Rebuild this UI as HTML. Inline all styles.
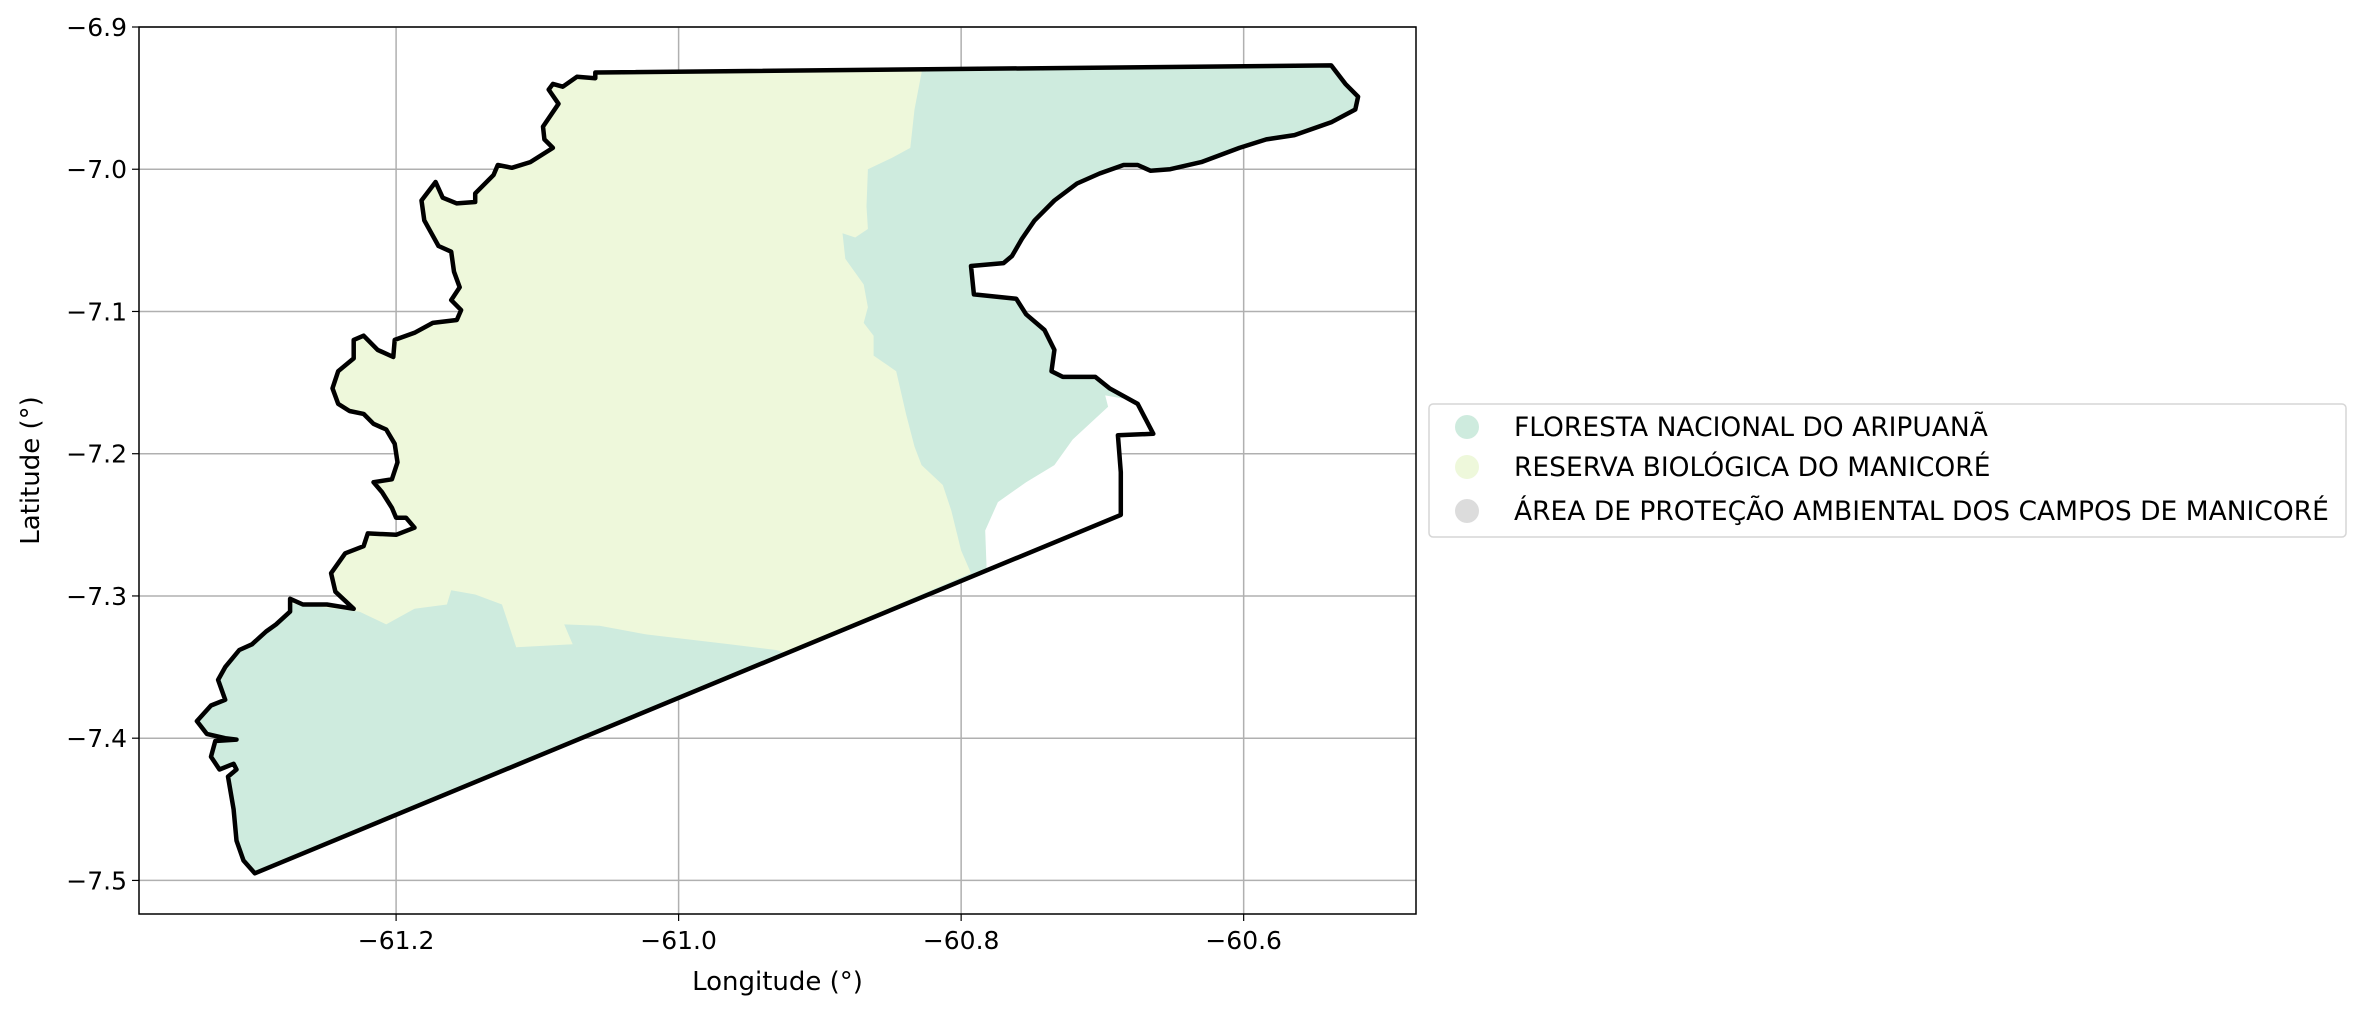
<!DOCTYPE html>
<html><head><meta charset="utf-8"><style>
html,body{margin:0;padding:0;background:#fff;}
svg text{font-family:"DejaVu Sans","Liberation Sans",sans-serif;}
</style></head><body>
<svg id="chart" width="2364" height="1015" xmlns="http://www.w3.org/2000/svg">
<defs><clipPath id="clipOutline"><path id="clipPath"/></clipPath></defs>
<g id="grid"></g>
<g id="fills"></g>
<g id="axes"></g>
<g id="legend"></g>
</svg>
<script>
const xTicks=[-61.2,-61.0,-60.8,-60.6];
const xTickLabels=["\u221261.2","\u221261.0","\u221260.8","\u221260.6"];
const yTicks=[-6.9,-7.0,-7.1,-7.2,-7.3,-7.4,-7.5];
const yTickLabels=["\u22126.9","\u22127.0","\u22127.1","\u22127.2","\u22127.3","\u22127.4","\u22127.5"];
const legendLabels=["FLORESTA NACIONAL DO ARIPUANÃ","RESERVA BIOLÓGICA DO MANICORÉ","ÁREA DE PROTEÇÃO AMBIENTAL DOS CAMPOS DE MANICORÉ"];
const outlineLon=[-61.059,-60.538,-60.528,-60.519,-60.521,-60.538,-60.564,-60.584,-60.603,-60.630,-60.652,-60.666,-60.675,-60.685,-60.702,-60.718,-60.734,-60.748,-60.757,-60.764,-60.770,-60.793,-60.791,-60.761,-60.754,-60.741,-60.734,-60.736,-60.728,-60.705,-60.695,-60.675,-60.664,-60.689,-60.687,-60.687,-61.300,-61.308,-61.313,-61.315,-61.319,-61.313,-61.315,-61.325,-61.331,-61.328,-61.313,-61.321,-61.334,-61.341,-61.331,-61.321,-61.326,-61.321,-61.311,-61.302,-61.292,-61.285,-61.275,-61.275,-61.266,-61.249,-61.230,-61.243,-61.246,-61.236,-61.223,-61.220,-61.200,-61.187,-61.193,-61.200,-61.203,-61.210,-61.216,-61.203,-61.199,-61.201,-61.207,-61.216,-61.223,-61.233,-61.241,-61.245,-61.241,-61.230,-61.230,-61.223,-61.213,-61.202,-61.201,-61.187,-61.174,-61.157,-61.154,-61.161,-61.155,-61.159,-61.161,-61.170,-61.175,-61.180,-61.182,-61.172,-61.167,-61.157,-61.144,-61.144,-61.131,-61.128,-61.118,-61.105,-61.089,-61.095,-61.096,-61.085,-61.092,-61.089,-61.082,-61.072,-61.059];
const outlineLat=[-6.932,-6.927,-6.940,-6.949,-6.958,-6.967,-6.976,-6.979,-6.985,-6.995,-7.000,-7.001,-6.997,-6.997,-7.003,-7.010,-7.022,-7.036,-7.049,-7.061,-7.066,-7.068,-7.088,-7.091,-7.102,-7.113,-7.127,-7.142,-7.146,-7.146,-7.154,-7.165,-7.186,-7.187,-7.213,-7.243,-7.495,-7.486,-7.472,-7.450,-7.427,-7.422,-7.418,-7.422,-7.413,-7.402,-7.401,-7.400,-7.397,-7.388,-7.377,-7.373,-7.359,-7.350,-7.338,-7.334,-7.325,-7.320,-7.311,-7.302,-7.306,-7.306,-7.309,-7.297,-7.284,-7.270,-7.265,-7.256,-7.257,-7.252,-7.245,-7.245,-7.238,-7.227,-7.220,-7.218,-7.206,-7.193,-7.183,-7.179,-7.172,-7.170,-7.165,-7.154,-7.142,-7.133,-7.120,-7.117,-7.127,-7.132,-7.120,-7.115,-7.108,-7.106,-7.099,-7.092,-7.083,-7.072,-7.058,-7.054,-7.045,-7.036,-7.022,-7.009,-7.020,-7.024,-7.023,-7.017,-7.004,-6.997,-6.999,-6.995,-6.985,-6.979,-6.970,-6.954,-6.944,-6.940,-6.942,-6.935,-6.936];
const rebioLon=[-60.828,-60.828,-60.833,-60.836,-60.849,-60.866,-60.867,-60.866,-60.875,-60.884,-60.882,-60.869,-60.866,-60.869,-60.862,-60.862,-60.846,-60.839,-60.833,-60.828,-60.813,-60.807,-60.800,-60.793,-60.925,-60.931,-60.964,-61.023,-61.056,-61.081,-61.075,-61.115,-61.125,-61.144,-61.161,-61.164,-61.187,-61.207,-61.226,-61.285,-61.384,-61.384];
const rebioLat=[-6.926,-6.932,-6.958,-6.985,-6.992,-7.000,-7.026,-7.042,-7.048,-7.045,-7.063,-7.081,-7.097,-7.108,-7.117,-7.131,-7.142,-7.172,-7.195,-7.208,-7.222,-7.240,-7.268,-7.284,-7.340,-7.338,-7.334,-7.327,-7.321,-7.320,-7.334,-7.336,-7.306,-7.299,-7.296,-7.306,-7.309,-7.320,-7.311,-7.304,-7.304,-6.926];
const gapLon=[-60.698,-60.675,-60.656,-60.687,-60.682,-60.782,-60.783,-60.774,-60.754,-60.734,-60.721,-60.696];
const gapLat=[-7.159,-7.163,-7.186,-7.190,-7.245,-7.281,-7.254,-7.234,-7.220,-7.208,-7.190,-7.167];

const L=139,R=1416,T=27,B=914;
const lonMin=-61.382,lonMax=-60.478,latMin=-7.5236,latMax=-6.9;
const xs=v=>L+(v-lonMin)/(lonMax-lonMin)*(R-L);
const ys=v=>B-(v-latMin)/(latMax-latMin)*(B-T);
const NS="http://www.w3.org/2000/svg";
function mk(tag,attrs,parent){const e=document.createElementNS(NS,tag);for(const k in attrs)e.setAttribute(k,attrs[k]);parent.appendChild(e);return e;}
function pathD(lons,lats){return lons.map((v,i)=>(i?'L':'M')+xs(v).toFixed(1)+','+ys(lats[i]).toFixed(1)).join('')+'Z';}

const grid=document.getElementById('grid'),fills=document.getElementById('fills'),axes=document.getElementById('axes'),legend=document.getElementById('legend');
document.getElementById('clipPath').setAttribute('d',pathD(outlineLon,outlineLat));

const fl=mk('path',{d:pathD(outlineLon,outlineLat),fill:'#ceebde'},fills);


const rb=mk('path',{d:pathD(rebioLon,rebioLat),fill:'#eef8db','clip-path':'url(#clipOutline)'},fills);


const gp=mk('path',{d:pathD(gapLon,gapLat),fill:'#ffffff','clip-path':'url(#clipOutline)'},fills);



xTicks.forEach((v,i)=>{
  const g=mk('line',{x1:xs(v),x2:xs(v),y1:T,y2:B,stroke:'#b0b0b0','stroke-width':1.5},grid);
  
  
  mk('line',{x1:xs(v),x2:xs(v),y1:B,y2:B+7,stroke:'#000','stroke-width':1.2},axes);
  const t=mk('text',{x:xs(v),y:B+35,'text-anchor':'middle','font-size':25},axes);
  t.textContent=xTickLabels[i];
  
  
});
yTicks.forEach((v,i)=>{
  const g=mk('line',{x1:L,x2:R,y1:ys(v),y2:ys(v),stroke:'#b0b0b0','stroke-width':1.5},grid);
  
  
  mk('line',{x1:L-7,x2:L,y1:ys(v),y2:ys(v),stroke:'#000','stroke-width':1.2},axes);
  const t=mk('text',{x:L-12,y:ys(v)+9,'text-anchor':'end','font-size':25},axes);
  t.textContent=yTickLabels[i];
  
  
});

const ol=mk('path',{d:pathD(outlineLon,outlineLat),fill:'none',stroke:'#000','stroke-width':4.5,'stroke-linejoin':'round'},axes);


const fr=mk('rect',{x:L,y:T,width:R-L,height:B-T,fill:'none',stroke:'#000','stroke-width':1.5},axes);



const xl=mk('text',{x:(L+R)/2,y:990,'text-anchor':'middle','font-size':26},axes);
xl.textContent='Longitude (°)';


const yl=mk('text',{x:0,y:0,'text-anchor':'middle','font-size':26,transform:'translate(39,'+((T+B)/2)+') rotate(-90)'},axes);
yl.textContent='Latitude (°)';



const lb=mk('rect',{x:1429,y:404,width:917,height:133,rx:4,fill:'#fff',stroke:'#d6d6d6','stroke-width':1.5},legend);


const legColors=['#ceebde','#eef8db','#dcdcdc'];
const rowY=[427,467,511];
legendLabels.forEach((s,i)=>{
  const c=mk('circle',{cx:1467,cy:rowY[i],r:12,fill:legColors[i]},legend);
  
  
  const t=mk('text',{x:1514,y:rowY[i]+9,'font-size':26.5},legend);
  t.textContent=s;
  
  
});
</script>
</body></html>
